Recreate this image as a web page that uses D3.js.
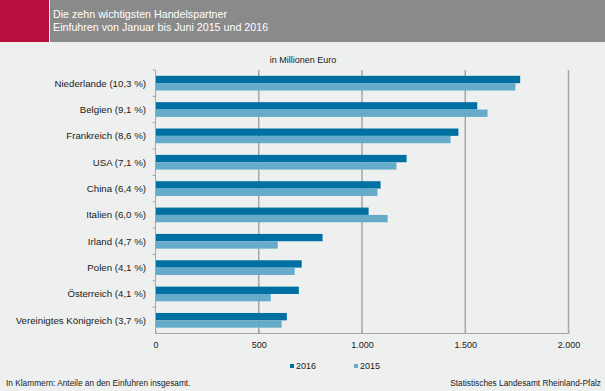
<!DOCTYPE html>
<html>
<head>
<meta charset="utf-8">
<script src="https://cdn.jsdelivr.net/npm/d3@7"></script>
<style>
  body { margin: 0; background: #eef0ef; }
  svg { display: block; font-family: "Liberation Sans", Arial, sans-serif; }
  .axis path, .axis line { stroke: #a6a6a6; }
  .axis text { fill: #1a1a1a; font-size: 9px; }
  .axis .label { font-size: 9.7px; }
</style>
</head>
<body>
<div id="chart"></div>
<script>
// Partner countries (share of total imports in brackets)
var countries = [
  'Niederlande (10,3 %)',
  'Belgien (9,1 %)',
  'Frankreich (8,6 %)',
  'USA (7,1 %)',
  'China (6,4 %)',
  'Italien (6,0 %)',
  'Irland (4,7 %)',
  'Polen (4,1 %)',
  'Österreich (4,1 %)',
  'Vereinigtes Königreich (3,7 %)'
]

// Imports Jan-Jun, million euro
var values2016 = [1766, 1558, 1467, 1216, 1090, 1032, 809, 708, 694, 636]
var values2015 = [1743, 1608, 1429, 1167, 1075, 1124, 592, 674, 558, 611]

var years = ['2016', '2015']
var xTicks = [0, 500, 1000, 1500, 2000]

var colours = {'2016': '#0070a3', '2015': '#66acca'}

var width = 605, height = 391
var svg = d3.select('#chart').append('svg')
  .attr('width', width)
  .attr('height', height)

svg.append('rect')
  .attr('width', width)
  .attr('height', height)
  .attr('fill', '#eef0ef')

// Header bar
svg.append('rect')
  .attr('width', 49)
  .attr('height', 42)
  .attr('fill', '#b8103e')
svg.append('rect')
  .attr('x', 50)
  .attr('width', width - 50)
  .attr('height', 42)
  .attr('fill', '#8a8a8b')

var title = svg.append('text')
  .attr('fill', '#fff')
  .style('font-size', '10.7px')
title.append('tspan').attr('x', 53).attr('y', 18).text('Die zehn wichtigsten Handelspartner')
title.append('tspan').attr('x', 53).attr('y', 31).text('Einfuhren von Januar bis Juni 2015 und 2016')

svg.append('text')
  .attr('x', 303)
  .attr('y', 63)
  .attr('text-anchor', 'middle')
  .attr('fill', '#1a1a1a')
  .style('font-size', '9px')
  .text('in Millionen Euro')

// Scales
var x = d3.scaleLinear().domain([0, 2000]).range([155.5, 568.5])
var y = d3.scaleBand().domain(countries).range([70, 333.5])
var ySub = d3.scaleBand().domain(years).range([0, y.bandwidth()]).paddingOuter(0.79)

// Gridlines
svg.append('g')
  .selectAll('line')
  .data(xTicks.slice(1))
  .join('line')
  .attr('x1', d => x(d))
  .attr('x2', d => x(d))
  .attr('y1', 70)
  .attr('y2', 333.5)
  .attr('stroke', '#a6a6a6')
  .attr('stroke-width', 1.5)

// Bars
var rows = countries.map((c, i) => ({country: c, '2016': values2016[i], '2015': values2015[i]}))

svg.append('g')
  .selectAll('g')
  .data(rows)
  .join('g')
  .attr('transform', d => 'translate(0,' + y(d.country) + ')')
  .selectAll('rect')
  .data(d => years.map(k => ({year: k, value: d[k]})))
  .join('rect')
  .attr('x', x(0))
  .attr('y', d => ySub(d.year))
  .attr('width', d => x(d.value) - x(0))
  .attr('height', ySub.bandwidth())
  .attr('fill', d => colours[d.year])

// Axes
var xAxis = d3.axisBottom(x)
  .tickValues(xTicks)
  .tickSize(-3)
  .tickPadding(8)
  .tickFormat(d => d3.format(',')(d).replace(/,/g, '.'))

svg.append('g')
  .classed('axis', true)
  .attr('transform', 'translate(0,333.5)')
  .call(xAxis)
  .call(g => g.select('.domain').attr('d', 'M' + x(0) + ',0H' + x(2000)))

// Left axis: ticks sit on the band boundaries
var yAxis = svg.append('g').classed('axis', true)
yAxis.append('line')
  .attr('x1', x(0)).attr('x2', x(0))
  .attr('y1', 70).attr('y2', 333.5)
yAxis.selectAll('.tick-mark')
  .data(countries.map(c => y(c)))
  .join('line')
  .attr('class', 'tick-mark')
  .attr('x1', x(0) - 3).attr('x2', x(0))
  .attr('y1', d => d).attr('y2', d => d)
yAxis.selectAll('text')
  .data(countries)
  .join('text')
  .attr('class', 'label')
  .attr('x', 146)
  .attr('y', d => y(d) + y.bandwidth() / 2)
  .attr('dy', '0.35em')
  .attr('text-anchor', 'end')
  .text(d => d)

// Legend
var legendX = {'2016': 290, '2015': 354}
var legend = svg.append('g')
  .selectAll('g')
  .data(years)
  .join('g')
  .attr('transform', d => 'translate(' + legendX[d] + ',366)')
legend.append('rect')
  .attr('y', -2)
  .attr('width', 4)
  .attr('height', 4)
  .attr('fill', d => colours[d])
legend.append('text')
  .attr('x', 6)
  .attr('dy', '0.35em')
  .attr('fill', '#1a1a1a')
  .style('font-size', '9px')
  .text(d => d)

// Footer
svg.append('text')
  .attr('x', 6)
  .attr('y', 386)
  .attr('fill', '#1a1a1a')
  .style('font-size', '8.3px')
  .text('In Klammern: Anteile an den Einfuhren insgesamt.')

svg.append('text')
  .attr('x', 601)
  .attr('y', 386)
  .attr('text-anchor', 'end')
  .attr('fill', '#1a1a1a')
  .style('font-size', '8.3px')
  .text('Statistisches Landesamt Rheinland-Pfalz')
</script>
</body>
</html>
